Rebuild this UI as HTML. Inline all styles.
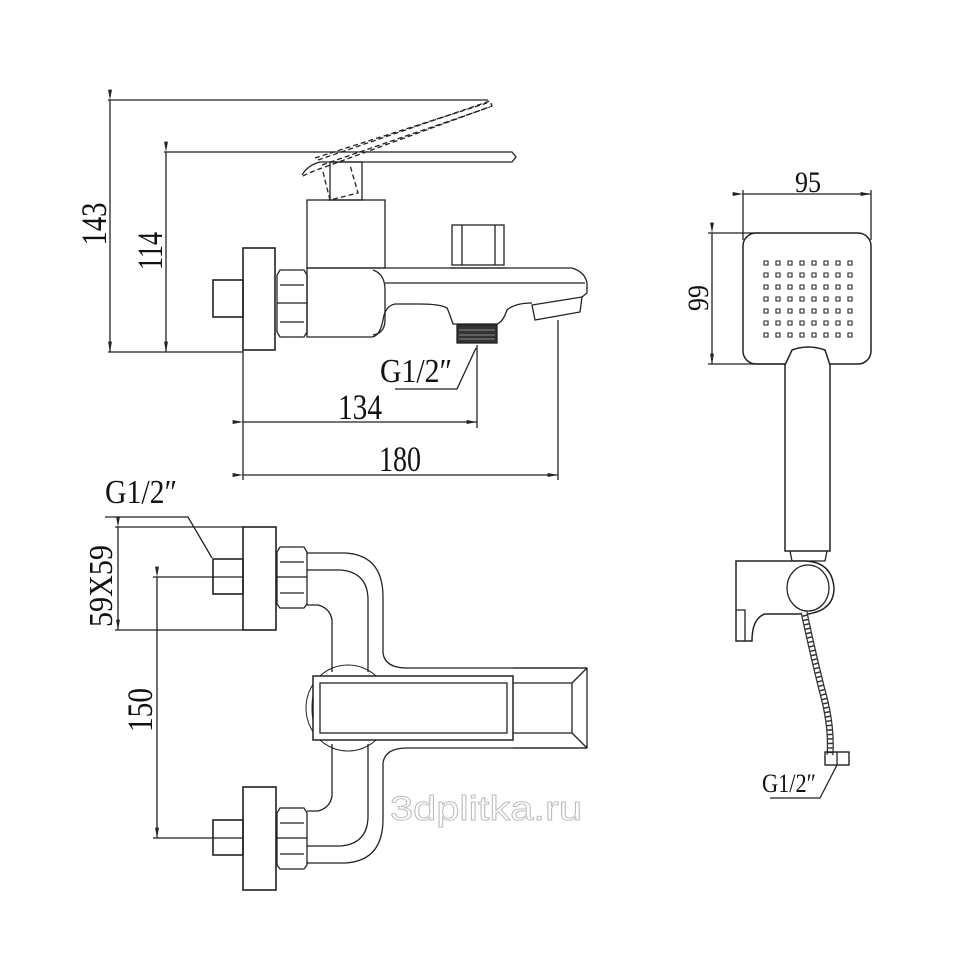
<!DOCTYPE html>
<html><head><meta charset="utf-8"><style>
html,body{margin:0;padding:0;background:#fff}
svg{display:block}
text{font-family:"Liberation Serif",serif;fill:#111}
</style></head><body>
<svg width="970" height="970" viewBox="0 0 970 970" xmlns="http://www.w3.org/2000/svg" fill="none" stroke="#222" stroke-width="1.3">
<defs>
<marker id="a" markerWidth="8" markerHeight="6" refX="8" refY="3" orient="auto"><path d="M0,1.5 L8,3 L0,4.5" fill="#222" stroke="none"/></marker>
</defs>

<line x1="108" y1="100" x2="488" y2="100"/>
<line x1="108" y1="352" x2="243" y2="352"/>
<line x1="110" y1="100" x2="110" y2="352" marker-start="url(#a)" marker-end="url(#a)"/>
<line x1="164" y1="152" x2="315" y2="152"/>
<line x1="166" y1="152" x2="166" y2="352" marker-start="url(#a)" marker-end="url(#a)"/>
<text transform="translate(106,224) rotate(-90)" font-size="36" text-anchor="middle" textLength="43" lengthAdjust="spacingAndGlyphs" stroke="none">143</text>
<text transform="translate(162,251) rotate(-90)" font-size="36" text-anchor="middle" textLength="38" lengthAdjust="spacingAndGlyphs" stroke="none">114</text>

<line x1="243" y1="350" x2="243" y2="480"/>
<line x1="477" y1="345" x2="477" y2="428"/>
<line x1="558" y1="320" x2="558" y2="480"/>
<line x1="243" y1="422" x2="477" y2="422" marker-start="url(#a)" marker-end="url(#a)"/>
<line x1="243" y1="475" x2="558" y2="475" marker-start="url(#a)" marker-end="url(#a)"/>
<text x="338" y="419" font-size="36" textLength="44" lengthAdjust="spacingAndGlyphs" stroke="none">134</text>
<text x="379" y="471" font-size="36" textLength="42" lengthAdjust="spacingAndGlyphs" stroke="none">180</text>
<text x="380" y="382" font-size="34" textLength="72" lengthAdjust="spacingAndGlyphs" stroke="none">G1/2″</text>
<polyline points="395,389 457,389 476,348"/>

<path d="M313,152 L512,152 L516,157 L512,162 L320,162 Q308,165 302,175"/>
<path d="M318,160 L490,101 L492,106 L325,167 Q310,172 303,176" stroke-dasharray="5,3"/>
<path d="M315,158 L487,103 M322,165 L490,107" stroke-dasharray="5,3"/>
<rect x="330" y="162" width="32" height="38"/>
<path d="M323,172 L330,200 L358,193 L350,165" stroke-dasharray="5,3"/>
<rect x="307" y="200" width="78" height="68"/>
<rect x="452" y="225" width="52" height="40"/>
<line x1="462" y1="225" x2="462" y2="265"/><line x1="495" y1="225" x2="495" y2="265"/>
<line x1="450" y1="268" x2="506" y2="268"/>
<path d="M307,268 L572,268 Q585,272 587,283 L587,293 L582,297"/>
<line x1="385" y1="283" x2="585" y2="283"/>
<path d="M532,303 Q515,303 507,310 Q503,322 497,324 L453,324 Q449,312 447,308 Q440,304 420,304 L395,304 Q385,306 383,320 Q380,336 372,337 L307,337 L307,268"/>
<path d="M373,270 Q385,274 385,290 L385,320 Q385,333 373,335"/>
<path d="M532,305 L582,297 L580,312 L535,320 Z"/>
<rect x="457" y="325" width="40" height="18" fill="#333"/>
<g stroke="#aaa" stroke-width="0.8"><line x1="459" y1="330" x2="495" y2="330"/><line x1="459" y1="335" x2="495" y2="335"/><line x1="459" y1="339" x2="495" y2="339"/></g>
<path d="M280,270 L304,270 L307,275 L307,332 L304,337 L280,337 L277,332 L277,275 Z"/>
<line x1="277" y1="303" x2="307" y2="303"/>
<line x1="280" y1="285" x2="304" y2="285"/><line x1="280" y1="322" x2="304" y2="322"/>
<rect x="243" y="248" width="32" height="102" stroke-width="1.6"/>
<rect x="213" y="280" width="30" height="37" stroke-width="1.6"/>

<text x="105" y="503" font-size="34" textLength="72" lengthAdjust="spacingAndGlyphs" stroke="none">G1/2″</text>
<polyline points="105,517 188,517 212,558"/>
<line x1="115" y1="527" x2="243" y2="527"/>
<line x1="115" y1="630" x2="243" y2="630"/>
<line x1="118" y1="527" x2="118" y2="630" marker-start="url(#a)" marker-end="url(#a)"/>
<text transform="translate(112,586) rotate(-90)" font-size="34" text-anchor="middle" textLength="82" lengthAdjust="spacingAndGlyphs" stroke="none">59X59</text>
<line x1="153" y1="577" x2="243" y2="577"/>
<line x1="153" y1="838" x2="243" y2="838"/>
<line x1="157" y1="577" x2="157" y2="838" marker-start="url(#a)" marker-end="url(#a)"/>
<text transform="translate(152,710) rotate(-90)" font-size="36" text-anchor="middle" textLength="44" lengthAdjust="spacingAndGlyphs" stroke="none">150</text>

<rect x="243" y="527" width="33" height="103" stroke-width="1.6"/>
<rect x="213" y="559" width="30" height="35" stroke-width="1.6"/>
<rect x="243" y="787" width="33" height="103" stroke-width="1.6"/>
<rect x="213" y="820" width="30" height="35" stroke-width="1.6"/>
<path d="M280,547 L304,547 L307,552 L307,604 L304,608 L280,608 L277,604 L277,552 Z"/>
<line x1="277" y1="577" x2="307" y2="577"/><line x1="280" y1="562" x2="304" y2="562"/><line x1="280" y1="593" x2="304" y2="593"/>
<path d="M280,808 L304,808 L307,813 L307,865 L304,869 L280,869 L277,865 L277,813 Z"/>
<line x1="277" y1="838" x2="307" y2="838"/><line x1="280" y1="823" x2="304" y2="823"/><line x1="280" y1="854" x2="304" y2="854"/>
<path d="M307,553 L345,553 Q383,555 383,597 L383,653 Q385,668 407,668 L587,668"/>
<path d="M307,570 L340,570 Q368,572 368,600 L368,672"/>
<path d="M307,605 L318,605 Q330,608 332,620 L332,672"/>
<path d="M307,863 L345,863 Q383,861 383,819 L383,763 Q385,748 407,748 L587,748"/>
<path d="M307,846 L340,846 Q368,844 368,816 L368,744"/>
<path d="M307,811 L318,811 Q330,808 332,796 L332,744"/>
<ellipse cx="348" cy="708" rx="42" ry="43" stroke-width="1"/>
<ellipse cx="318" cy="708" rx="6" ry="22" stroke-width="1"/>
<rect x="313" y="676" width="200" height="64" fill="#fff" stroke-width="1.5"/>
<rect x="320" y="683" width="187" height="50"/>
<path d="M513,668 L587,668 L587,748 L513,748 M513,683 L572,683 L572,733 L513,733 M572,683 L587,668 M572,733 L587,748"/>
<text x="390" y="820" font-size="34" textLength="192" lengthAdjust="spacingAndGlyphs" style="font-family:'Liberation Sans',sans-serif;fill:#fff;stroke:#bbb;stroke-width:0.9">3dplitka.ru</text>

<line x1="743" y1="190" x2="743" y2="240"/>
<line x1="871" y1="190" x2="871" y2="240"/>
<line x1="743" y1="194" x2="871" y2="194" marker-start="url(#a)" marker-end="url(#a)"/>
<text x="795" y="192" font-size="30" textLength="26" lengthAdjust="spacingAndGlyphs" stroke="none">95</text>
<line x1="708" y1="233" x2="760" y2="233"/>
<line x1="708" y1="364" x2="790" y2="364"/>
<line x1="712" y1="233" x2="712" y2="364" marker-start="url(#a)" marker-end="url(#a)"/>
<text transform="translate(708,298) rotate(-90)" font-size="30" text-anchor="middle" textLength="26" lengthAdjust="spacingAndGlyphs" stroke="none">99</text>
<rect x="743" y="233" width="128" height="131" rx="13" stroke-width="1.5"/>
<g stroke-width="1.1">
<path d="M764,261h4v4h-4z M776,261h4v4h-4z M788,261h4v4h-4z M800,261h4v4h-4z M812,261h4v4h-4z M824,261h4v4h-4z M836,261h4v4h-4z M848,261h4v4h-4z"/>
<path d="M764,273h4v4h-4z M776,273h4v4h-4z M788,273h4v4h-4z M800,273h4v4h-4z M812,273h4v4h-4z M824,273h4v4h-4z M836,273h4v4h-4z M848,273h4v4h-4z"/>
<path d="M764,285h4v4h-4z M776,285h4v4h-4z M788,285h4v4h-4z M800,285h4v4h-4z M812,285h4v4h-4z M824,285h4v4h-4z M836,285h4v4h-4z M848,285h4v4h-4z"/>
<path d="M764,297h4v4h-4z M776,297h4v4h-4z M788,297h4v4h-4z M800,297h4v4h-4z M812,297h4v4h-4z M824,297h4v4h-4z M836,297h4v4h-4z M848,297h4v4h-4z"/>
<path d="M764,309h4v4h-4z M776,309h4v4h-4z M788,309h4v4h-4z M800,309h4v4h-4z M812,309h4v4h-4z M824,309h4v4h-4z M836,309h4v4h-4z M848,309h4v4h-4z"/>
<path d="M764,321h4v4h-4z M776,321h4v4h-4z M788,321h4v4h-4z M800,321h4v4h-4z M812,321h4v4h-4z M824,321h4v4h-4z M836,321h4v4h-4z M848,321h4v4h-4z"/>
<path d="M764,333h4v4h-4z M776,333h4v4h-4z M788,333h4v4h-4z M800,333h4v4h-4z M812,333h4v4h-4z M824,333h4v4h-4z M836,333h4v4h-4z M848,333h4v4h-4z"/>
</g>
<path d="M785,551 L785,365 L792,350 Q808,344 825,350 L830,365 L830,551 Z" fill="#fff" stroke-width="1.5"/>
<path d="M790,551 L792,561 L825,561 L827,551"/>
<path d="M736,561 L805,561 Q832,562 834,588 Q834,610 808,614 L765,614 Q752,618 752,641 L736,641 Z" fill="#fff" stroke-width="1.5"/>
<path d="M736,610 L745,610 L745,641"/>
<ellipse cx="808" cy="588" rx="21" ry="23"/>
<path d="M804,612 Q812,650 822,690 Q832,725 830,755" stroke-width="7" stroke="#333"/>
<path d="M804,612 Q812,650 822,690 Q832,725 830,755" stroke-width="4.5" stroke="#fff" stroke-dasharray="3,1.5"/>
<rect x="825" y="752" width="24" height="13" stroke-width="1.4"/>
<line x1="837" y1="752" x2="837" y2="765"/>
<text x="762" y="792" font-size="26" textLength="54" lengthAdjust="spacingAndGlyphs" stroke="none">G1/2″</text>
<polyline points="770,798 820,798 837,765"/>
</svg>
</body></html>
